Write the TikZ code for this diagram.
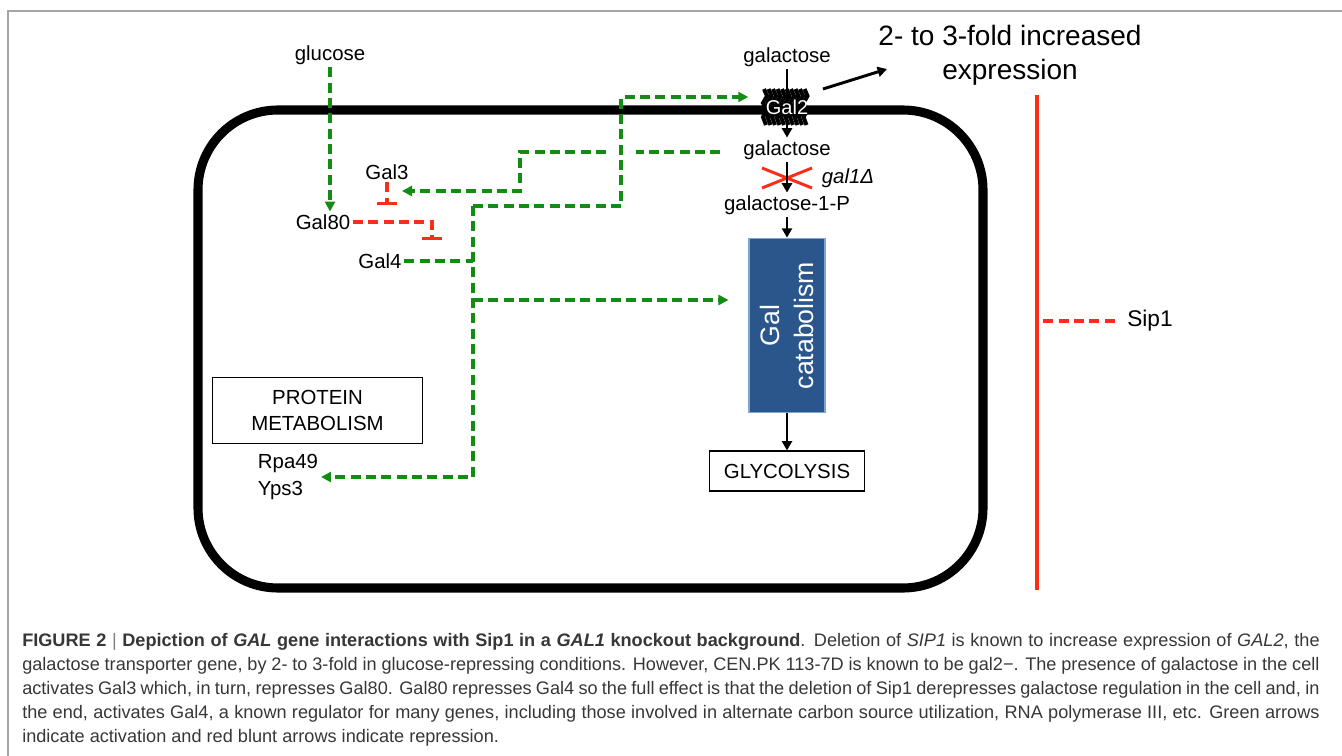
\documentclass[tikz,border=0pt]{standalone}
\usepackage{fontspec}
\setmainfont{Liberation Sans}
\usepackage{xcolor}
\usepackage{tikz}
\usetikzlibrary{arrows.meta, positioning, calc}
\definecolor{actgreen}{RGB}{20,140,20}
\definecolor{repred}{RGB}{250,45,25}
\definecolor{catblue}{RGB}{42,86,140}
\definecolor{catedge}{RGB}{125,165,215}
\definecolor{capgray}{RGB}{55,55,55}
\newcommand{\capfill}[1]{\hbox to 973pt{#1}}

\begin{document}
\begin{tikzpicture}[x=0.75pt, y=-0.75pt,
  lbl/.style={font=\fontsize{15.3}{18}\selectfont, inner sep=2pt},
  act/.style={draw=actgreen, line width=2.6pt, dash pattern=on 7.5pt off 4pt, -{Triangle[length=7.5pt,width=7.5pt]}},
  actline/.style={draw=actgreen, line width=2.6pt, dash pattern=on 7.5pt off 4pt},
  rep/.style={draw=repred, line width=2.4pt, dash pattern=on 7.5pt off 4pt, -{Bar[width=15pt,line width=2.4pt]}},
  flow/.style={draw=black, line width=2.2pt, -{Triangle[length=7pt,width=7.5pt]}},
  boxed/.style={lbl, draw, line width=0.8pt, align=center},
  capline/.style={anchor=base west, inner sep=0pt, text=capgray, font=\fontsize{13.6}{18}\selectfont}]
\useasboundingbox (0,0) rectangle (1342,756);
\draw[gray!70, line width=1.5pt] (8,756) -- (8,11) -- (1342,11);

% cell
\draw[line width=6.8pt, rounded corners=60pt] (198,110) rectangle (983,588);

% nodes
\node[lbl] (glucose) at (330,55) {glucose};
\node[lbl] (gal3) at (387,172) {Gal3};
\node[lbl] (gal80) at (323,222) {Gal80};
\node[lbl] (gal4) at (380,261) {Gal4};
\node[lbl] (galout) at (787,57) {galactose};
\node[lbl] (galin) at (787,150) {galactose};
\node[lbl] (galp) at (787,205) {galactose-1-P};
\node[lbl, font=\fontsize{15.3}{18}\selectfont\itshape] (ko) at (848,178) {gal1Δ};
\node[draw=catedge, fill=catblue, line width=0.8pt, minimum width=57pt, minimum height=131pt] (catab) at (787,325.5) {};
\node[rotate=90, text=white, align=center, font=\fontsize{20}{26}\selectfont] (catabtxt) at (catab.center) {Gal\\catabolism};
\node[boxed, minimum width=116pt, minimum height=30pt] (glyco) at (787,471) {GLYCOLYSIS};
\node[boxed, minimum width=157pt, minimum height=49pt, font=\fontsize{15.3}{19.5}\selectfont] (prot) at (317.5,410.5) {PROTEIN\\METABOLISM};
\node[lbl, anchor=west, align=left, font=\fontsize{15.3}{20}\selectfont] (rpa) at (255,477) {Rpa49\\Yps3};
\node[align=center, font=\fontsize{21}{25.5}\selectfont] (fold) at (1010,55) {2- to 3-fold increased\\expression};
\node[font=\fontsize{17}{20}\selectfont] (sip1) at (1150,321) {Sip1};

% coordinates for the dashed wiring
\coordinate (busTop) at (473,206);
\coordinate (busMid) at (473,300);
\coordinate (busBot) at (473,477);
\coordinate (stepA) at (621,206);
\coordinate (stepB) at (621,97);
\coordinate (gapR) at (636,152);
\coordinate (gapL) at (606,152);
\coordinate (stepC) at (520,152);
\coordinate (stepD) at (520,191);
\coordinate (g3in) at (402,191);
\coordinate (g3bar) at (387,205);
\coordinate (g80bar) at (432,240);
\coordinate (expA) at (823,89);
\coordinate (expB) at (887,69);
\coordinate (sipTop) at (1037,95);
\coordinate (sipBot) at (1037,590);

% black pathway
\draw[flow] (galout.south) -- (galin.north);
\foreach \dx in {0,4.5,...,42}
  \draw[line width=3pt] (764+\dx,89) -- (767+\dx,96) -- (763+\dx,103) -- (767+\dx,110) -- (763+\dx,117) -- (766+\dx,125);
\node[text=white, font=\fontsize{15}{16}\selectfont, inner sep=1pt] (gal2) at (787,107) {Gal2};
\draw[repred, line width=2.2pt] (762,168) -- (812,188) (762,188) -- (812,168);
\draw[flow] (galin.south) -- (galp.north);
\draw[flow] (galp.south) -- (catab.north);
\draw[flow] (catab.south) -- (glyco.north);
\draw[flow] (expA) -- (expB);

% activation (green)
\draw[act] (glucose.south) -- (glucose.south |- gal80.north);
\draw[actline] (gal4.east) -- (gal4.east -| busTop);
\draw[act] (busTop) -- (busBot) -- (rpa.east);
\draw[act, shorten >=15pt] (busMid) -- (catab.west |- busMid);
\draw[act, shorten >=12pt] (busTop) -- (stepA) -- (stepB) -- (gal2.west |- stepB);
\draw[actline, shorten <=15pt] (galin.west |- gapR) -- (gapR);
\draw[act] (gapL) -- (stepC) -- (stepD) -- (g3in);

% repression (red)
\draw[rep] (gal3.south) -- (g3bar);
\draw[rep] (gal80.east) -| (g80bar);
\draw[repred, line width=2.4pt] (sipTop) -- (sipBot);
\draw[draw=repred, line width=2.4pt, dash pattern=on 7.5pt off 4pt, shorten <=6pt] (sip1.west) -- (sip1.west -| sipTop);

% caption
\node[capline] (cap1) at (22,646) {\capfill{\textbf{FIGURE 2} {\color{gray}|} \textbf{Depiction of \textit{GAL} gene interactions with Sip1 in a \textit{GAL1} knockout background}. Deletion of \textit{SIP1} is known to increase expression of \textit{GAL2}, the}};
\node[capline] (cap2) at (22,670) {\capfill{galactose transporter gene, by 2- to 3-fold in glucose-repressing conditions. However, CEN.PK 113-7D is known to be gal2−. The presence of galactose in the cell}};
\node[capline] (cap3) at (22,694) {\capfill{activates Gal3 which, in turn, represses Gal80. Gal80 represses Gal4 so the full effect is that the deletion of Sip1 derepresses galactose regulation in the cell and, in}};
\node[capline] (cap4) at (22,718) {\capfill{the end, activates Gal4, a known regulator for many genes, including those involved in alternate carbon source utilization, RNA polymerase III, etc. Green arrows}};
\node[capline] (cap5) at (22,742) {indicate activation and red blunt arrows indicate repression.};
\end{tikzpicture}
\end{document}
